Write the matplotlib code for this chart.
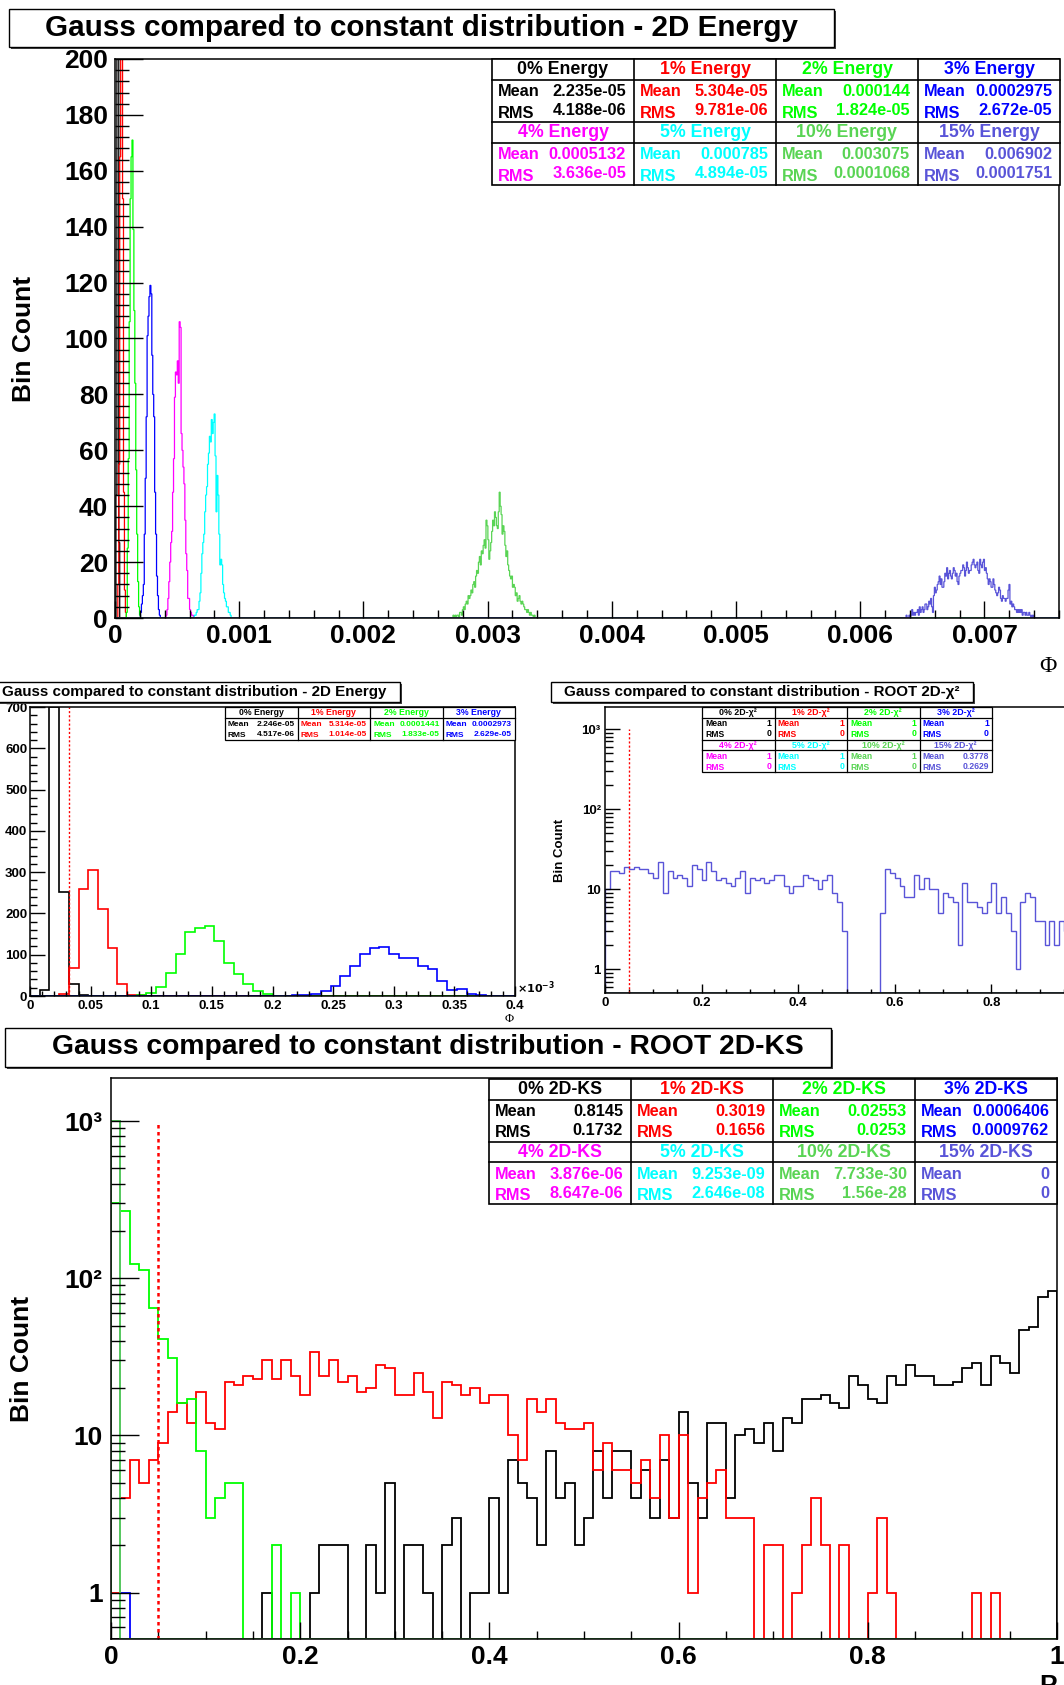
import numpy as np
import matplotlib
matplotlib.use("Agg")
import matplotlib.pyplot as plt
from matplotlib.patches import Rectangle
from matplotlib.lines import Line2D
from matplotlib.ticker import MultipleLocator, FixedLocator, FixedFormatter

W, H = 1064, 1685
plt.rcParams['font.family'] = ['Liberation Sans', 'DejaVu Sans']
plt.rcParams['font.weight'] = 'bold'
plt.rcParams['axes.linewidth'] = 1.1

# ------------------------------------------------------------------ data
series_colors = ['#000000', '#ff0000', '#00ff00', '#0000ff',
                 '#ff00ff', '#00ffff', '#59d454', '#5954d8']

# --- top panel: 2D Energy, 1000 bins in [0, 0.0076]
top_nbins = 1000
top_xmax = 0.0076
top_start = [1, 3, 12, 27, 54, 84, 358, 838]
top_e0 = [44, 499, 430, 27]
top_e1 = [12, 55, 165, 280, 275, 150, 45, 10, 2]
top_e2 = [2, 25, 57, 106, 150, 165, 171, 139, 110, 84, 53, 30, 13, 4, 1]
top_e3 = [2, 5, 8, 12, 30, 50, 72, 101, 108, 115, 119, 116, 94, 80, 72, 45, 30, 15, 8, 3, 1]
top_e4 = [1, 3, 7, 13, 20, 27, 31, 45, 57, 79, 88, 87, 92, 84, 106, 104, 66, 60, 54, 48,
          35, 23, 17, 7, 7, 3, 2, 1, 1]
top_e5 = [1, 1, 2, 3, 3, 6, 9, 16, 23, 27, 30, 38, 44, 47, 55, 59, 65, 63, 71, 66,
          70, 73, 58, 38, 51, 44, 30, 19, 21, 19, 12, 9, 7, 6, 4, 4, 2, 2, 1]
top_e10 = [1, 0, 1, 0, 1, 1, 0, 2, 2, 1,
           3, 4, 3, 5, 6, 5, 8, 7, 8, 10,
           9, 12, 13, 11, 15, 17, 16, 20, 22, 19,
           24, 23, 26, 28, 25, 35, 33, 28, 21, 24,
           27, 31, 35, 33, 38, 36, 33, 32, 38, 45,
           40, 37, 30, 33, 31, 26, 22, 24, 19, 17,
           15, 14, 15, 11, 12, 11, 8, 9, 6, 7,
           8, 6, 5, 6, 5, 4, 3, 3, 2, 3,
           2, 1, 2, 1, 1, 0, 1]
top_e15 = [1, 0, 0, 1, 0, 1, 3, 1, 2, 1,
           2, 2, 3, 1, 4, 2, 3, 4, 2, 3,
           5, 5, 3, 4, 6, 5, 7, 4, 2, 8,
           11, 9, 10, 12, 13, 15, 12, 14, 11, 11,
           13, 16, 15, 18, 14, 16, 17, 15, 14, 16,
           18, 17, 15, 16, 13, 12, 15, 16, 17, 17,
           19, 18, 15, 17, 20, 18, 16, 17, 17, 19,
           20, 21, 19, 18, 19, 20, 17, 16, 21, 19,
           18, 20, 21, 17, 18, 16, 14, 12, 14, 13,
           11, 11, 14, 12, 10, 9, 8, 9, 11, 10,
           7, 6, 8, 7, 7, 6, 7, 7, 10, 12,
           5, 6, 4, 5, 4, 3, 3, 2, 3, 2,
           3, 2, 3, 1, 2, 2, 1, 2, 1, 1,
           2, 1, 0, 1, 0, 1]
top_series = [top_e0, top_e1, top_e2, top_e3, top_e4, top_e5, top_e10, top_e15]
top_xticks = [0, 0.001, 0.002, 0.003, 0.004, 0.005, 0.006, 0.007]
top_xticklabels = ['0', '0.001', '0.002', '0.003', '0.004', '0.005', '0.006', '0.007']
top_yticks = [0, 20, 40, 60, 80, 100, 120, 140, 160, 180, 200]

energy_names = ['0% Energy', '1% Energy', '2% Energy', '3% Energy',
                '4% Energy', '5% Energy', '10% Energy', '15% Energy']
energy_mean = ['2.235e-05', '5.304e-05', '0.000144', '0.0002975',
               '0.0005132', '0.000785', '0.003075', '0.006902']
energy_rms = ['4.188e-06', '9.781e-06', '1.824e-05', '2.672e-05',
              '3.636e-05', '4.894e-05', '0.0001068', '0.0001751']

# --- middle-left panel: 2D Energy zoom, 50 bins in [0, 0.4] x 1e-3
ml_nbins = 50
ml_xmax = 0.4
ml_start = [1, 3, 10, 27]
ml_e0 = [14, 701, 252, 30, 3]
ml_e1 = [6, 68, 259, 304, 211, 117, 30, 2, 2]
ml_e2 = [1, 3, 8, 22, 56, 101, 156, 164, 170, 134, 80, 54, 30, 11, 4, 1]
ml_e3 = [2, 3, 6, 12, 24, 48, 72, 101, 117, 119, 101, 93, 92, 73, 65, 36, 14, 16, 4, 3]
ml_series = [ml_e0, ml_e1, ml_e2, ml_e3]
ml_xticks = [0, 0.05, 0.1, 0.15, 0.2, 0.25, 0.3, 0.35, 0.4]
ml_xticklabels = ['0', '0.05', '0.1', '0.15', '0.2', '0.25', '0.3', '0.35', '0.4']
ml_yticks = [0, 100, 200, 300, 400, 500, 600, 700]
ml_names = energy_names[:4]
ml_mean = ['2.246e-05', '5.314e-05', '0.0001441', '0.0002973']
ml_rms = ['4.517e-06', '1.014e-05', '1.833e-05', '2.629e-05']
ml_cut = 0.032

# --- middle-right panel: ROOT 2D-chi2, 100 bins in [0, 1]
chi2_15 = [10, 17, 17, 16, 19, 18, 19, 18, 18, 16,
           14, 22, 9, 17, 14, 15, 14, 11, 20, 18,
           13, 22, 17, 13, 14, 12, 11, 14, 17, 9,
           14, 13, 14, 12, 13, 15, 15, 11, 9, 11,
           11, 15, 14, 13, 10, 13, 15, 9, 7, 3,
           0, 0, 0, 0, 0, 0, 0, 5, 18, 16,
           14, 11, 8, 8, 15, 10, 14, 10, 10, 5,
           9, 8, 7, 2, 12, 7, 7, 6, 5, 7,
           12, 5, 8, 5, 3, 1, 7, 9, 8, 4,
           4, 2, 4, 2, 4, 3, 5, 2, 4, 6]
chi2_names = ['0% 2D-χ²', '1% 2D-χ²', '2% 2D-χ²', '3% 2D-χ²',
              '4% 2D-χ²', '5% 2D-χ²', '10% 2D-χ²', '15% 2D-χ²']
chi2_mean = ['1', '1', '1', '1', '1', '1', '1', '0.3778']
chi2_rms = ['0', '0', '0', '0', '0', '0', '0', '0.2629']
chi2_xticks = [0, 0.2, 0.4, 0.6, 0.8]
chi2_xticklabels = ['0', '0.2', '0.4', '0.6', '0.8']

# --- bottom panel: ROOT 2D-KS, 100 bins in [0, 1]
ks_0 = [0, 0, 0, 0, 0, 0, 0, 0, 0, 0,
        0, 0, 0, 0, 0, 0, 1, 0, 0, 0,
        0, 1, 2, 2, 2, 0, 0, 2, 1, 5,
        0, 2, 2, 1, 0, 2, 3, 0, 1, 1,
        4, 1, 7, 5, 4, 2, 8, 4, 5, 2,
        3, 8, 4, 8, 8, 4, 6, 3, 7, 3,
        14, 5, 3, 12, 12, 4, 10, 11, 9, 12,
        8, 13, 12, 17, 17, 18, 16, 15, 24, 21,
        17, 16, 24, 21, 28, 24, 24, 21, 21, 22,
        27, 29, 21, 32, 29, 25, 47, 49, 76, 83]
ks_1 = [1, 4, 7, 5, 7, 9, 14, 16, 12, 19,
        12, 11, 22, 21, 24, 23, 30, 23, 30, 24,
        18, 34, 24, 30, 22, 24, 19, 20, 28, 27,
        18, 18, 25, 19, 13, 22, 21, 18, 20, 16,
        18, 18, 10, 7, 17, 14, 17, 12, 11, 11,
        12, 6, 9, 6, 6, 5, 7, 4, 10, 3,
        10, 1, 4, 5, 6, 3, 3, 3, 0, 2,
        2, 0, 1, 2, 4, 2, 0, 2, 0, 0,
        1, 3, 1, 0, 0, 0, 0, 0, 0, 0,
        0, 1, 0, 1, 0, 0, 0, 0, 0, 0]
ks_2 = [300, 270, 123, 113, 65, 41, 31, 16, 17, 8,
        3, 4, 5, 5, 0, 0, 0, 2, 0, 1] + [0] * 80
ks_3 = [999, 1] + [0] * 98
ks_4 = [1000] + [0] * 99
ks_5 = [1000] + [0] * 99
ks_10 = [1000] + [0] * 99
ks_15 = [1000] + [0] * 99
ks_names = ['0% 2D-KS', '1% 2D-KS', '2% 2D-KS', '3% 2D-KS',
            '4% 2D-KS', '5% 2D-KS', '10% 2D-KS', '15% 2D-KS']
ks_mean = ['0.8145', '0.3019', '0.02553', '0.0006406',
           '3.876e-06', '9.253e-09', '7.733e-30', '0']
ks_rms = ['0.1732', '0.1656', '0.0253', '0.0009762',
          '8.647e-06', '2.646e-08', '1.56e-28', '0']
cut_value = 0.05

unit_xticks = [0, 0.2, 0.4, 0.6, 0.8, 1.0]
unit_xticklabels = ['0', '0.2', '0.4', '0.6', '0.8', '1']
log_ticks = [1, 10, 100, 1000]
log_ticklabels = ['1', '10', '10²', '10³']
log_ylim = (0.506, 1883)

title_energy = 'Gauss compared to constant distribution - 2D Energy'
title_chi2 = 'Gauss compared to constant distribution - ROOT 2D-χ²'
title_ks = 'Gauss compared to constant distribution - ROOT 2D-KS'

# ------------------------------------------------------------------ helpers
fig = plt.figure(figsize=(W / 100, H / 100), dpi=100)


def fx(px):
    return px / W


def fy(py):
    return 1 - py / H


def add_axes_px(x0, y0, x1, y1):
    return fig.add_axes([fx(x0), fy(y1), (x1 - x0) / W, (y1 - y0) / H])


def title_box(x0, y0, x1, y1, text, fs, dx=0):
    fig.add_artist(Rectangle((fx(x0 + 2), fy(y1 + 2)), (x1 - x0) / W, (y1 - y0) / H,
                             transform=fig.transFigure, facecolor='#444444',
                             edgecolor='none', zorder=4))
    fig.add_artist(Rectangle((fx(x0), fy(y1)), (x1 - x0) / W, (y1 - y0) / H,
                             transform=fig.transFigure, facecolor='white',
                             edgecolor='black', lw=1.0, zorder=5))
    fig.text(fx((x0 + x1) / 2 + dx), fy((y0 + y1) / 2), text, ha='center', va='center',
             fontsize=fs, fontweight='bold', zorder=7)


def stats_box(x0, y0, x1, y1, names, means, rmss, colors, fs, hfs, lw=1.2, padl=6, padr=8):
    ng = len(names) // 4
    gh = (y1 - y0) / ng
    cw = (x1 - x0) / 4
    fig.add_artist(Rectangle((fx(x0), fy(y1)), (x1 - x0) / W, (y1 - y0) / H,
                             transform=fig.transFigure, facecolor='white',
                             edgecolor='black', lw=lw, zorder=5))

    def hline(y):
        fig.add_artist(Line2D([fx(x0), fx(x1)], [fy(y), fy(y)], transform=fig.transFigure,
                              color='black', lw=lw, zorder=6))

    for c in range(1, 4):
        xx = x0 + c * cw
        fig.add_artist(Line2D([fx(xx), fx(xx)], [fy(y0), fy(y1)], transform=fig.transFigure,
                              color='black', lw=lw, zorder=6))
    for g in range(ng):
        gy = y0 + g * gh
        if g > 0:
            hline(gy)
        hline(gy + 0.335 * gh)
        for c in range(4):
            i = g * 4 + c
            cx = x0 + c * cw
            col = colors[i]
            kw = dict(va='center', fontsize=fs, color=col, fontweight='bold', zorder=7)
            fig.text(fx(cx + cw / 2), fy(gy + 0.17 * gh), names[i], ha='center',
                     va='center', fontsize=hfs, color=col, fontweight='bold', zorder=7)
            fig.text(fx(cx + padl), fy(gy + 0.52 * gh), 'Mean', ha='left', **kw)
            fig.text(fx(cx + cw - padr), fy(gy + 0.52 * gh), means[i], ha='right', **kw)
            fig.text(fx(cx + padl), fy(gy + 0.86 * gh), 'RMS', ha='left', **kw)
            fig.text(fx(cx + cw - padr), fy(gy + 0.825 * gh), rmss[i], ha='right', **kw)


def full_counts(nbins, start, vals):
    counts = np.zeros(nbins)
    counts[start:start + len(vals)] = vals
    return counts


def style_ticks(ax, xmaj, xmin, ymaj, ymin, lsize, xpad, ypad, w=1.0):
    ax.tick_params(which='both', direction='in', top=False, right=False, width=w)
    ax.tick_params(axis='x', which='major', length=xmaj, labelsize=lsize, pad=xpad)
    ax.tick_params(axis='x', which='minor', length=xmin)
    ax.tick_params(axis='y', which='major', length=ymaj, labelsize=lsize, pad=ypad)
    ax.tick_params(axis='y', which='minor', length=ymin)


# ------------------------------------------------------------------ top panel
ax1 = add_axes_px(115, 59, 1059, 618)
top_edges = np.linspace(0, top_xmax, top_nbins + 1)
for start, vals, col in zip(top_start, top_series, series_colors):
    ax1.stairs(full_counts(top_nbins, start, vals), top_edges, color=col, lw=0.9, baseline=0)
ax1.set_xlim(0, top_xmax)
ax1.set_ylim(0, 200)
ax1.xaxis.set_major_locator(FixedLocator(top_xticks))
ax1.xaxis.set_major_formatter(FixedFormatter(top_xticklabels))
ax1.xaxis.set_minor_locator(MultipleLocator(0.0002))
ax1.yaxis.set_major_locator(FixedLocator(top_yticks))
ax1.yaxis.set_minor_locator(MultipleLocator(4))
style_ticks(ax1, 12, 5.8, 20, 10, 19, 4, 5)
fig.text(fx(24), fy(339), 'Bin Count', rotation=90, ha='center', va='center',
         fontsize=19, fontweight='bold')
fig.text(fx(1048), fy(666), 'Φ', ha='center', va='center', fontsize=17,
         family=['Liberation Serif', 'DejaVu Serif'], fontweight='normal')
title_box(9, 9, 834, 47, title_energy, 21.3)
stats_box(492, 59, 1060, 185, energy_names, energy_mean, energy_rms, series_colors,
          11.8, 12.8)

# ------------------------------------------------------------------ middle-left
ax2 = add_axes_px(30, 707, 515, 996)
ml_edges = np.linspace(0, ml_xmax, ml_nbins + 1)
for start, vals, col in zip(ml_start, ml_series, series_colors[:4]):
    ax2.stairs(full_counts(ml_nbins, start, vals), ml_edges, color=col, lw=1.2, baseline=0)
ax2.plot([ml_cut, ml_cut], [0, 700], color='#ff0000', lw=1.0, ls=(0, (1.5, 1.5)))
ax2.set_xlim(0, ml_xmax)
ax2.set_ylim(0, 700)
ax2.xaxis.set_major_locator(FixedLocator(ml_xticks))
ax2.xaxis.set_major_formatter(FixedFormatter(ml_xticklabels))
ax2.xaxis.set_minor_locator(MultipleLocator(0.01))
ax2.yaxis.set_major_locator(FixedLocator(ml_yticks))
ax2.yaxis.set_minor_locator(MultipleLocator(20))
style_ticks(ax2, 7, 3.5, 10.5, 5, 9.5, 3, 2)
fig.text(fx(517), fy(988), r'$\times10^{-3}$', ha='left', va='center', fontsize=8)
fig.text(fx(509), fy(1019), 'Φ', ha='center', va='center', fontsize=9,
         family=['Liberation Serif', 'DejaVu Serif'], fontweight='normal')
title_box(-12, 682, 400, 702, title_energy, 10.9)
stats_box(225, 707, 515, 740, ml_names, ml_mean, ml_rms, series_colors[:4], 6, 6.3,
          lw=0.9, padl=3, padr=3)

# ------------------------------------------------------------------ middle-right
ax3 = add_axes_px(605, 707, 1088, 993)
unit_edges = np.linspace(0, 1, 101)
chi2_series = [[0] * 100] * 7 + [chi2_15]
for idx in [0, 1, 2, 3, 4, 5, 7, 6]:
    vals = np.maximum(np.asarray(chi2_series[idx], float), log_ylim[0])
    ax3.stairs(vals, unit_edges, color=series_colors[idx], lw=1.0, baseline=log_ylim[0])
ax3.plot([cut_value, cut_value], [log_ylim[0], 1000], color='#ff0000', lw=1.0,
         ls=(0, (1.5, 1.5)))
ax3.set_yscale('log')
ax3.set_xlim(0, 1)
ax3.set_ylim(*log_ylim)
minor_log = [k * 10.0 ** d for d in range(-1, 4) for k in range(2, 10)]
ax3.xaxis.set_major_locator(FixedLocator(chi2_xticks))
ax3.xaxis.set_major_formatter(FixedFormatter(chi2_xticklabels))
ax3.xaxis.set_minor_locator(MultipleLocator(0.05))
ax3.yaxis.set_major_locator(FixedLocator(log_ticks))
ax3.yaxis.set_major_formatter(FixedFormatter(log_ticklabels))
ax3.yaxis.set_minor_locator(FixedLocator(minor_log))
style_ticks(ax3, 6.5, 3.2, 11, 5.5, 9.5, 3, 3)
fig.text(fx(560), fy(850), 'Bin Count', rotation=90, ha='center', va='center',
         fontsize=9.5, fontweight='bold')
title_box(551, 682, 973, 702, title_chi2, 10.9)
stats_box(702, 707, 992, 772, chi2_names, chi2_mean, chi2_rms, series_colors, 6.2, 6.4,
          lw=0.9, padl=3, padr=3)

# ------------------------------------------------------------------ bottom panel
ax4 = add_axes_px(111, 1078, 1057, 1639)
ks_series = [ks_0, ks_1, ks_2, ks_3, ks_4, ks_5, ks_10, ks_15]
for idx in [0, 1, 2, 3, 4, 5, 7, 6]:
    vals = np.maximum(np.asarray(ks_series[idx], float), log_ylim[0])
    ax4.stairs(vals, unit_edges, color=series_colors[idx], lw=1.3, baseline=log_ylim[0])
ax4.plot([cut_value, cut_value], [log_ylim[0], 1000], color='#ff0000', lw=1.8,
         ls=(0, (1.4, 1.4)))
ax4.set_yscale('log')
ax4.set_xlim(0, 1)
ax4.set_ylim(*log_ylim)
ax4.xaxis.set_major_locator(FixedLocator(unit_xticks))
ax4.xaxis.set_major_formatter(FixedFormatter(unit_xticklabels))
ax4.xaxis.set_minor_locator(MultipleLocator(0.05))
ax4.yaxis.set_major_locator(FixedLocator(log_ticks))
ax4.yaxis.set_major_formatter(FixedFormatter(log_ticklabels))
ax4.yaxis.set_minor_locator(FixedLocator(minor_log))
style_ticks(ax4, 12, 6, 20, 10, 19, 4, 6)
fig.text(fx(22), fy(1359), 'Bin Count', rotation=90, ha='center', va='center',
         fontsize=19, fontweight='bold')
fig.text(fx(1048), fy(1674), 'P', ha='center', va='top', fontsize=19, fontweight='bold')
title_box(5, 1028, 831, 1067, title_ks, 20.3, dx=10)
stats_box(489, 1079, 1057, 1204, ks_names, ks_mean, ks_rms, series_colors, 11.8, 12.8)

fig.savefig('out.png', dpi=100)
